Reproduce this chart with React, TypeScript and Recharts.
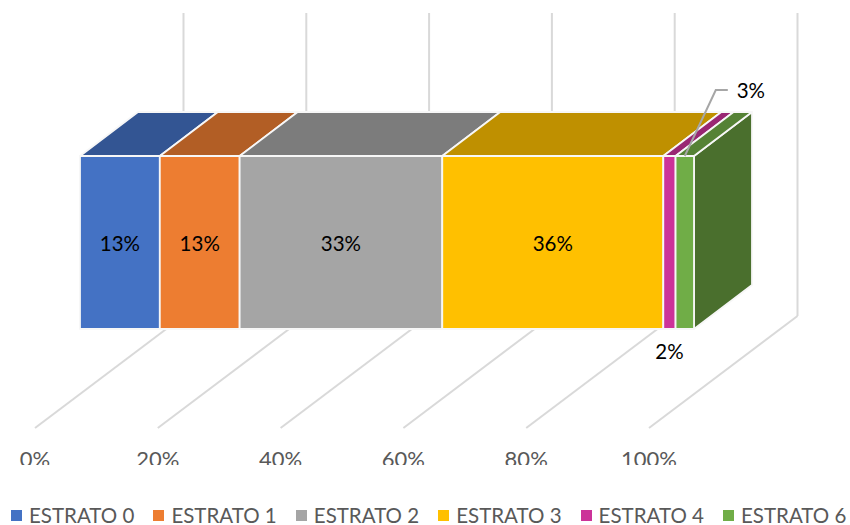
import { BarChart, Bar, XAxis, YAxis, Legend, LabelList, CartesianGrid } from "recharts";

const categories = ["Estrato"];
const seriesNames = ["ESTRATO 0", "ESTRATO 1", "ESTRATO 2", "ESTRATO 3", "ESTRATO 4", "ESTRATO 6"];
const seriesValues = [13, 13, 33, 36, 2, 3];
const tickValues = [0, 20, 40, 60, 80, 100];
const frontColors = ["#4472C4", "#ED7D31", "#A5A5A5", "#FFC000", "#CC3399", "#70AD47"];
const topColors = ["#335593", "#B25E25", "#7C7C7C", "#BF9000", "#992673", "#558235"];
const sideColors = ["#29447A", "#8E4B1D", "#636363", "#997300", "#7A1F5C", "#4A6F2D"];

const chartData = categories.map((cat) => {
  const row: Record<string, string | number> = { cat };
  seriesNames.forEach((name, i) => {
    row[name] = seriesValues[i];
  });
  return row;
});

const FONT = "Lato, Carlito, Calibri, sans-serif";
// 3D look, Excel style
const DEPTH_X = 58;
const DEPTH_Y = 44;
const EDGE = "#F7F7F7";

function Box(props: any) {
  const { x, y, width, height, index3d } = props;
  const dx = DEPTH_X;
  const dy = DEPTH_Y;
  const top = `${x},${y} ${x + width},${y} ${x + width + dx},${y - dy} ${x + dx},${y - dy}`;
  const side = `${x + width},${y} ${x + width + dx},${y - dy} ${x + width + dx},${y + height - dy} ${x + width},${y + height}`;
  return (
    <g stroke={EDGE} strokeWidth={1.8} strokeLinejoin="round">
      <polygon points={side} fill={sideColors[index3d]} />
      <polygon points={top} fill={topColors[index3d]} />
      <rect x={x} y={y} width={width} height={height} fill={frontColors[index3d]} />
    </g>
  );
}

// floor diagonal + back wall line, drawn through the grid so it stays behind the bars
function WallLine(props: any) {
  const { x1: x } = props;
  return (
    <g key={props.key}>
      <line x1={x - 45} y1={428} x2={x + 103.5} y2={316} stroke="#D9D9D9" strokeWidth={2} />
      <line x1={x + 103.5} y1={13} x2={x + 103.5} y2={316} stroke="#D9D9D9" strokeWidth={2} />
    </g>
  );
}

function AxisTick(props: any) {
  const { x, payload } = props;
  return (
    <text
      x={x - 45}
      y={467}
      textAnchor="middle"
      fontFamily={FONT}
      fontSize={22}
      fill="#595959"
      clipPath="url(#tickClip)"
    >
      {payload.value}%
    </text>
  );
}

function CenterLabel(props: any) {
  const { x, y, width, height, index3d } = props;
  const v = seriesValues[index3d];
  return (
    <text x={x + width / 2} y={y + height / 2 + 8} textAnchor="middle" fontFamily={FONT} fontSize={20.5} fill="#000">
      {v}%
    </text>
  );
}

function BelowLabel(props: any) {
  const { x, y, width, height, index3d } = props;
  return (
    <text x={x + width / 2} y={y + height + 30} textAnchor="middle" fontFamily={FONT} fontSize={20.5} fill="#000">
      {seriesValues[index3d]}%
    </text>
  );
}

function CalloutLabel(props: any) {
  const { x, y, width, index3d } = props;
  const cx = x + width / 2;
  return (
    <g>
      <polyline
        points={`${cx},${y} ${cx + 31},${y - 66} ${cx + 43},${y - 66}`}
        fill="none"
        stroke="#A6A6A6"
        strokeWidth={2}
      />
      <text x={cx + 66} y={y - 58} textAnchor="middle" fontFamily={FONT} fontSize={20.5} fill="#000">
        {seriesValues[index3d]}%
      </text>
    </g>
  );
}

function LegendRow() {
  return (
    <div style={{ position: "relative", width: 850, height: 17 }}>
      {seriesNames.map((name, i) => (
        <div key={name} style={{ position: "absolute", left: 11 + i * 142.4, top: 0, display: "flex", alignItems: "center", height: 17 }}>
          <span style={{ width: 11, height: 11, background: frontColors[i], marginRight: 7 }} />
          <span style={{ fontFamily: FONT, fontSize: 20.5, lineHeight: "17px", color: "#595959", whiteSpace: "nowrap" }}>{name}</span>
        </div>
      ))}
    </div>
  );
}

export default function App() {
  return (
    <div style={{ position: "absolute", left: 0, top: 0, width: 850, height: 525, background: "#fff" }}>
      <BarChart
        width={850}
        height={525}
        data={chartData}
        layout="vertical"
        barCategoryGap={0}
        margin={{ top: 156, right: 156, bottom: 149, left: 80 }}
      >
        <defs>
          <clipPath id="tickClip">
            <rect x={0} y={440} width={850} height={25} />
          </clipPath>
        </defs>
        <CartesianGrid horizontal={false} vertical={WallLine} verticalValues={tickValues} />
        <YAxis type="category" dataKey="cat" hide />
        <XAxis
          type="number"
          domain={[0, 100]}
          ticks={tickValues}
          height={30}
          axisLine={false}
          tickLine={false}
          interval={0}
          tick={AxisTick}
        />
        <Legend
          content={LegendRow}
          wrapperStyle={{ position: "absolute", left: 0, top: 507, width: 850, height: 17, bottom: "auto" }}
        />
        {seriesNames.map((name, i) => (
          <Bar
            key={name}
            dataKey={name}
            stackId="a"
            isAnimationActive={false}
            fill={frontColors[i]}
            shape={(p: any) => <Box {...p} index3d={i} />}
          >
            <LabelList
              dataKey={name}
              content={(p: any) =>
                i === 4 ? <BelowLabel {...p} index3d={i} /> : i === 5 ? <CalloutLabel {...p} index3d={i} /> : <CenterLabel {...p} index3d={i} />
              }
            />
          </Bar>
        ))}
      </BarChart>
    </div>
  );
}
